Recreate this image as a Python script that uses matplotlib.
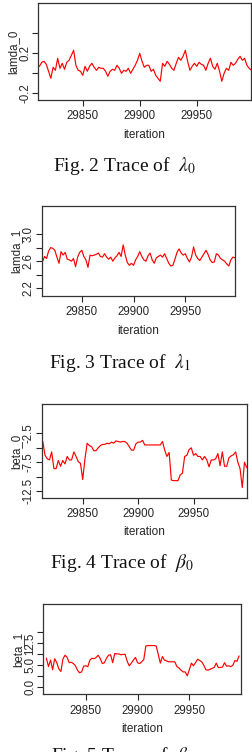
import numpy as np
import matplotlib
matplotlib.use("Agg")
import matplotlib.pyplot as plt

plt.rcParams['font.family'] = ['Liberation Sans', 'DejaVu Sans']
plt.rcParams['mathtext.fontset'] = 'stix'

# ---------------- data ----------------
start_iter = 29812
step = 2

lamda_0 = [0.07, 0.11, 0.12, 0.09, 0.02, -0.05, 0.06, 0.03, 0.15, 0.05,
           0.10, 0.04, 0.11, 0.13, 0.18, 0.23, 0.08, 0.03, 0.02, -0.02,
           0.07, 0.02, 0.07, 0.10, 0.06, 0.03, 0.06, 0.05, 0.05, 0.02,
           -0.03, 0.02, 0.04, 0.03, 0.08, 0.05, 0.00, 0.03, 0.02, 0.05,
           0.00, 0.04, 0.08, 0.13, 0.20, 0.12, 0.06, 0.08, 0.08, 0.02,
           0.04, -0.02, -0.05, -0.08, 0.10, 0.07, 0.12, 0.09, 0.05, 0.03,
           0.10, 0.16, 0.13, 0.17, 0.23, 0.12, 0.03, 0.07, 0.10, 0.07,
           0.11, 0.09, 0.08, 0.03, 0.10, 0.15, 0.07, 0.04, 0.10, 0.02,
           -0.08, 0.00, 0.05, 0.03, 0.11, 0.08, 0.10, 0.14, 0.17, 0.13,
           0.15, 0.08, 0.05, 0.03]

lamda_1 = [2.59, 2.67, 2.64, 2.75, 2.80, 2.79, 2.76, 2.66, 2.57, 2.74,
           2.69, 2.73, 2.63, 2.62, 2.60, 2.64, 2.52, 2.66, 2.73, 2.76,
           2.67, 2.62, 2.51, 2.69, 2.68, 2.69, 2.70, 2.72, 2.67, 2.66,
           2.71, 2.66, 2.63, 2.66, 2.60, 2.65, 2.68, 2.73, 2.67, 2.84,
           2.69, 2.58, 2.54, 2.57, 2.54, 2.62, 2.67, 2.74, 2.67, 2.62,
           2.60, 2.68, 2.72, 2.62, 2.57, 2.65, 2.67, 2.69, 2.66, 2.71,
           2.64, 2.57, 2.53, 2.54, 2.63, 2.73, 2.78, 2.72, 2.69, 2.71,
           2.64, 2.59, 2.66, 2.81, 2.69, 2.64, 2.61, 2.66, 2.71, 2.76,
           2.70, 2.62, 2.58, 2.59, 2.71, 2.69, 2.64, 2.62, 2.60, 2.56,
           2.53, 2.62, 2.66, 2.65]

beta_0 = [-5.1, -3.9, -6.3, -6.9, -7.1, -5.7, -8.6, -8.6, -7.2, -8.2,
          -7.2, -7.8, -6.5, -7.1, -7.1, -5.7, -6.5, -7.4, -7.7, -10.5,
          -7.0, -4.2, -4.6, -4.8, -5.5, -5.5, -5.0, -4.6, -4.4, -4.4,
          -4.2, -4.3, -4.0, -4.2, -3.8, -3.9, -4.0, -3.9, -3.9, -4.2,
          -4.8, -5.4, -5.4, -4.3, -4.0, -4.0, -3.7, -4.5, -4.5, -4.5,
          -4.5, -4.5, -4.5, -4.5, -4.5, -3.9, -5.4, -6.5, -5.8, -10.6,
          -10.7, -10.7, -10.7, -9.7, -9.4, -6.5, -6.3, -5.3, -5.0, -6.3,
          -6.0, -6.5, -6.5, -7.1, -6.5, -7.1, -8.3, -7.1, -7.1, -6.9,
          -6.0, -8.1, -5.7, -8.2, -8.2, -6.7, -6.4, -6.2, -5.7, -7.5,
          -8.6, -11.9, -7.5, -8.4]

beta_1 = [6.6, 4.7, 6.2, 4.0, 6.5, 5.6, 4.2, 3.6, 6.5, 7.3,
          6.8, 5.6, 5.7, 5.4, 4.9, 3.9, 3.3, 3.5, 4.8, 4.9,
          4.7, 6.2, 6.6, 6.5, 6.8, 7.3, 6.5, 5.4, 5.6, 6.6,
          7.3, 7.4, 5.6, 7.7, 7.6, 7.6, 7.4, 7.5, 7.5, 5.9,
          4.9, 5.5, 6.2, 6.8, 5.6, 5.4, 5.8, 6.3, 9.4, 9.5,
          9.5, 9.5, 9.5, 9.4, 7.5, 5.5, 7.0, 6.2, 6.0, 5.8,
          5.8, 5.8, 5.8, 4.7, 4.4, 3.9, 3.5, 3.5, 2.6, 4.0,
          5.5, 4.9, 5.6, 6.4, 6.1, 5.8, 5.0, 4.0, 3.9, 4.1,
          4.3, 4.5, 5.5, 4.5, 4.5, 4.6, 5.6, 4.8, 4.9, 4.7,
          5.0, 6.1, 5.9, 7.1]

series_names = ["lamda_0", "lamda_1", "beta_0", "beta_1"]
xtick_values = [29850, 29900, 29950]
ytick_values = [[-0.2, 0.0, 0.2, 0.4],
                [2.2, 2.4, 2.6, 2.8, 3.0],
                [-12.5, -10.0, -7.5, -5.0, -2.5],
                [0.0, 2.5, 5.0, 7.5, 10.0, 12.5]]
ytick_labels = [["-0.2", "", "0.2", ""],
                ["2.2", "", "2.6", "", "3.0"],
                ["-12.5", "", "-7.5", "", "-2.5"],
                ["0.0", "", "5.0", "", "12.5", ""]]
captions = [r"Fig. 2 Trace of  $\lambda_0$",
            r"Fig. 3 Trace of  $\lambda_1$",
            r"Fig. 4 Trace of  $\beta_0$",
            r"Fig. 5 Trace of  $\beta_1$"]

# ---------------- layout (pixels) ----------------
W, H = 252, 752
fig = plt.figure(figsize=(W / 100, H / 100), dpi=100)
fig.patch.set_facecolor("white")

boxes = [(38.3, 3.3, 251.0, 100.0),
         (41.7, 206.0, 235.0, 296.0),
         (41.7, 404.3, 246.7, 497.7),
         (43.3, 604.3, 240.7, 694.3)]
xlims = [(29811.0, 29997.6), (29811.3, 29998.0), (29813.0, 29998.0), (29809.0, 29999.6)]
ylims = [(-0.267, 0.70), (2.09, 3.41), (-13.66, 2.56), (-1.6, 18.9)]
caption_pos = [(125, 166), (120, 363), (122, 563), (122, 756)]

all_series = [lamda_0, lamda_1, beta_0, beta_1]
txt_col = "#262626"

for i, vals in enumerate(all_series):
    l, t, r, b = boxes[i]
    ax = fig.add_axes([l / W, 1 - b / H, (r - l) / W, (b - t) / H])
    it = start_iter + step * np.arange(len(vals))
    ax.plot(it, vals, color="#ff0000", lw=0.85)
    ax.set_xlim(*xlims[i])
    ax.set_ylim(*ylims[i])
    ax.set_xticks(xtick_values)
    ax.set_xticklabels([str(v) for v in xtick_values])
    ax.set_yticks(ytick_values[i])
    ax.set_yticklabels(ytick_labels[i], rotation=90, va="center")
    ax.tick_params(axis="both", labelsize=8.3, colors=txt_col, length=4,
                   width=0.8, pad=1.0)
    ax.tick_params(axis="x", pad=3.5)
    for sp in ax.spines.values():
        sp.set_color("#333333")
        sp.set_linewidth(0.9)
    ax.set_xlabel("iteration", fontsize=8.5, color=txt_col, labelpad=4.5)
    ax.set_ylabel(series_names[i], fontsize=8.3, color=txt_col, labelpad=0.3)
    cx, cy = caption_pos[i]
    fig.text(cx / W, 1 - cy / H, captions[i], ha="center", va="center",
             fontsize=14, family="Liberation Serif", color="#111111")

fig.savefig("out.png", dpi=100)
